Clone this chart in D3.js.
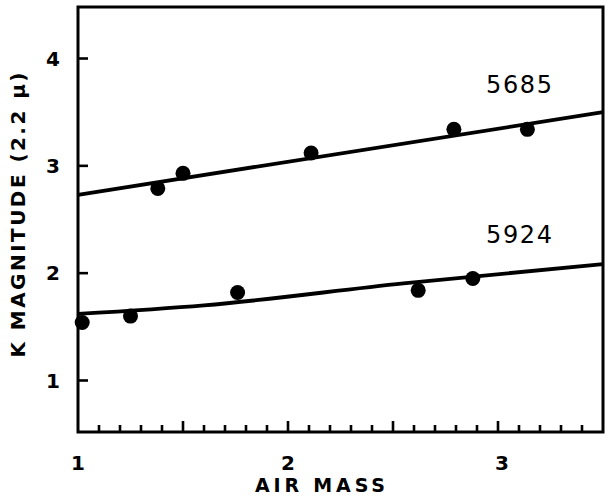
<!DOCTYPE html>
<html>
<head>
<meta charset="utf-8">
<script src="https://cdn.jsdelivr.net/npm/d3@7"></script>
<style>
  body { margin: 0; background: #fff; }
  text { font-family: "DejaVu Sans", sans-serif; font-weight: bold; fill: #000; }
</style>
</head>
<body>
<svg id="chart"></svg>
<script>
// star 5685 (upper)
const airMass5685 = [1.38, 1.50, 2.11, 2.79, 3.14];
const kMag5685 = [2.79, 2.93, 3.12, 3.34, 3.34];
const fitX5685 = [1.0, 3.5];
const fitY5685 = [2.73, 3.50];

// star 5924 (lower)
const airMass5924 = [1.02, 1.25, 1.76, 2.62, 2.88];
const kMag5924 = [1.54, 1.60, 1.82, 1.84, 1.95];
const fitX5924 = [1.0, 1.6, 2.55, 3.5];
const fitY5924 = [1.62, 1.70, 1.905, 2.085];

const xMajor = [1, 2, 3];
const yMajor = [1, 2, 3, 4];
const starNames = ['5685', '5924'];

const width = 612, height = 498;
const margin = { top: 7, right: 9, bottom: 66, left: 78 };

const svg = d3.select('#chart')
    .attr('width', width)
    .attr('height', height);

const x = d3.scaleLinear()
    .domain([1, 3.5])
    .range([margin.left, width - margin.right]);

const y = d3.scaleLinear()
    .domain([0.52, 4.48])
    .range([height - margin.bottom, margin.top]);

// frame
svg.append('rect')
    .attr('x', x(1))
    .attr('y', y(4.48))
    .attr('width', x(3.5) - x(1))
    .attr('height', y(0.52) - y(4.48))
    .attr('fill', 'none')
    .attr('stroke', '#000')
    .attr('stroke-width', 3);

// x ticks: minor every 0.1, taller every 0.5
const xTicks = d3.range(11, 35).map(d => d / 10);
svg.append('g')
    .selectAll('line')
    .data(xTicks)
    .join('line')
    .attr('x1', d => x(d))
    .attr('x2', d => x(d))
    .attr('y1', y(0.52))
    .attr('y2', d => y(0.52) - (Math.round(d * 10) % 5 === 0 ? 11 : 7))
    .attr('stroke', '#000')
    .attr('stroke-width', 2.6);

// y ticks on left, pointing in
svg.append('g')
    .selectAll('line')
    .data(yMajor)
    .join('line')
    .attr('x1', x(1))
    .attr('x2', x(1) + 10)
    .attr('y1', d => y(d))
    .attr('y2', d => y(d))
    .attr('stroke', '#000')
    .attr('stroke-width', 2.6);

svg.append('g')
    .selectAll('text')
    .data(yMajor)
    .join('text')
    .attr('x', 53)
    .attr('y', d => y(d))
    .attr('dy', '0.36em')
    .attr('text-anchor', 'middle')
    .style('font-size', '20px')
    .text(d => d);

svg.append('g')
    .selectAll('text')
    .data(xMajor)
    .join('text')
    .attr('x', d => x(d) + (d === 3 ? 4 : 0))
    .attr('y', 470)
    .attr('text-anchor', 'middle')
    .style('font-size', '20px')
    .text(d => d);

// axis titles
svg.append('text')
    .attr('x', 320)
    .attr('y', 492)
    .attr('text-anchor', 'middle')
    .attr('textLength', 130)
    .attr('lengthAdjust', 'spacing')
    .style('font-size', '19px')
    .text('AIR  MASS');

svg.append('text')
    .attr('transform', 'translate(25, 215) rotate(-90)')
    .attr('text-anchor', 'middle')
    .attr('textLength', 285)
    .attr('lengthAdjust', 'spacing')
    .style('font-size', '20px')
    .text('K MAGNITUDE (2.2 \u03bc)');

// fit lines
const line = d3.line()
    .x(d => x(d[0]))
    .y(d => y(d[1]))
    .curve(d3.curveMonotoneX);

const fits = [
    d3.zip(fitX5685, fitY5685),
    d3.zip(fitX5924, fitY5924)
];

svg.append('g')
    .selectAll('path')
    .data(fits)
    .join('path')
    .attr('d', line)
    .attr('fill', 'none')
    .attr('stroke', '#000')
    .attr('stroke-width', 3.8);

// observations
const points = d3.zip(airMass5685, kMag5685).concat(d3.zip(airMass5924, kMag5924));
svg.append('g')
    .selectAll('circle')
    .data(points)
    .join('circle')
    .attr('cx', d => x(d[0]))
    .attr('cy', d => y(d[1]))
    .attr('r', 7.5)
    .attr('fill', '#000');

// star labels
svg.append('g')
    .selectAll('text')
    .data(starNames)
    .join('text')
    .attr('x', 486)
    .attr('y', (d, i) => i === 0 ? 93 : 243)
    .attr('textLength', 66)
    .attr('lengthAdjust', 'spacing')
    .style('font-size', '24px')
    .style('font-weight', 'normal')
    .text(d => d);
</script>
</body>
</html>
